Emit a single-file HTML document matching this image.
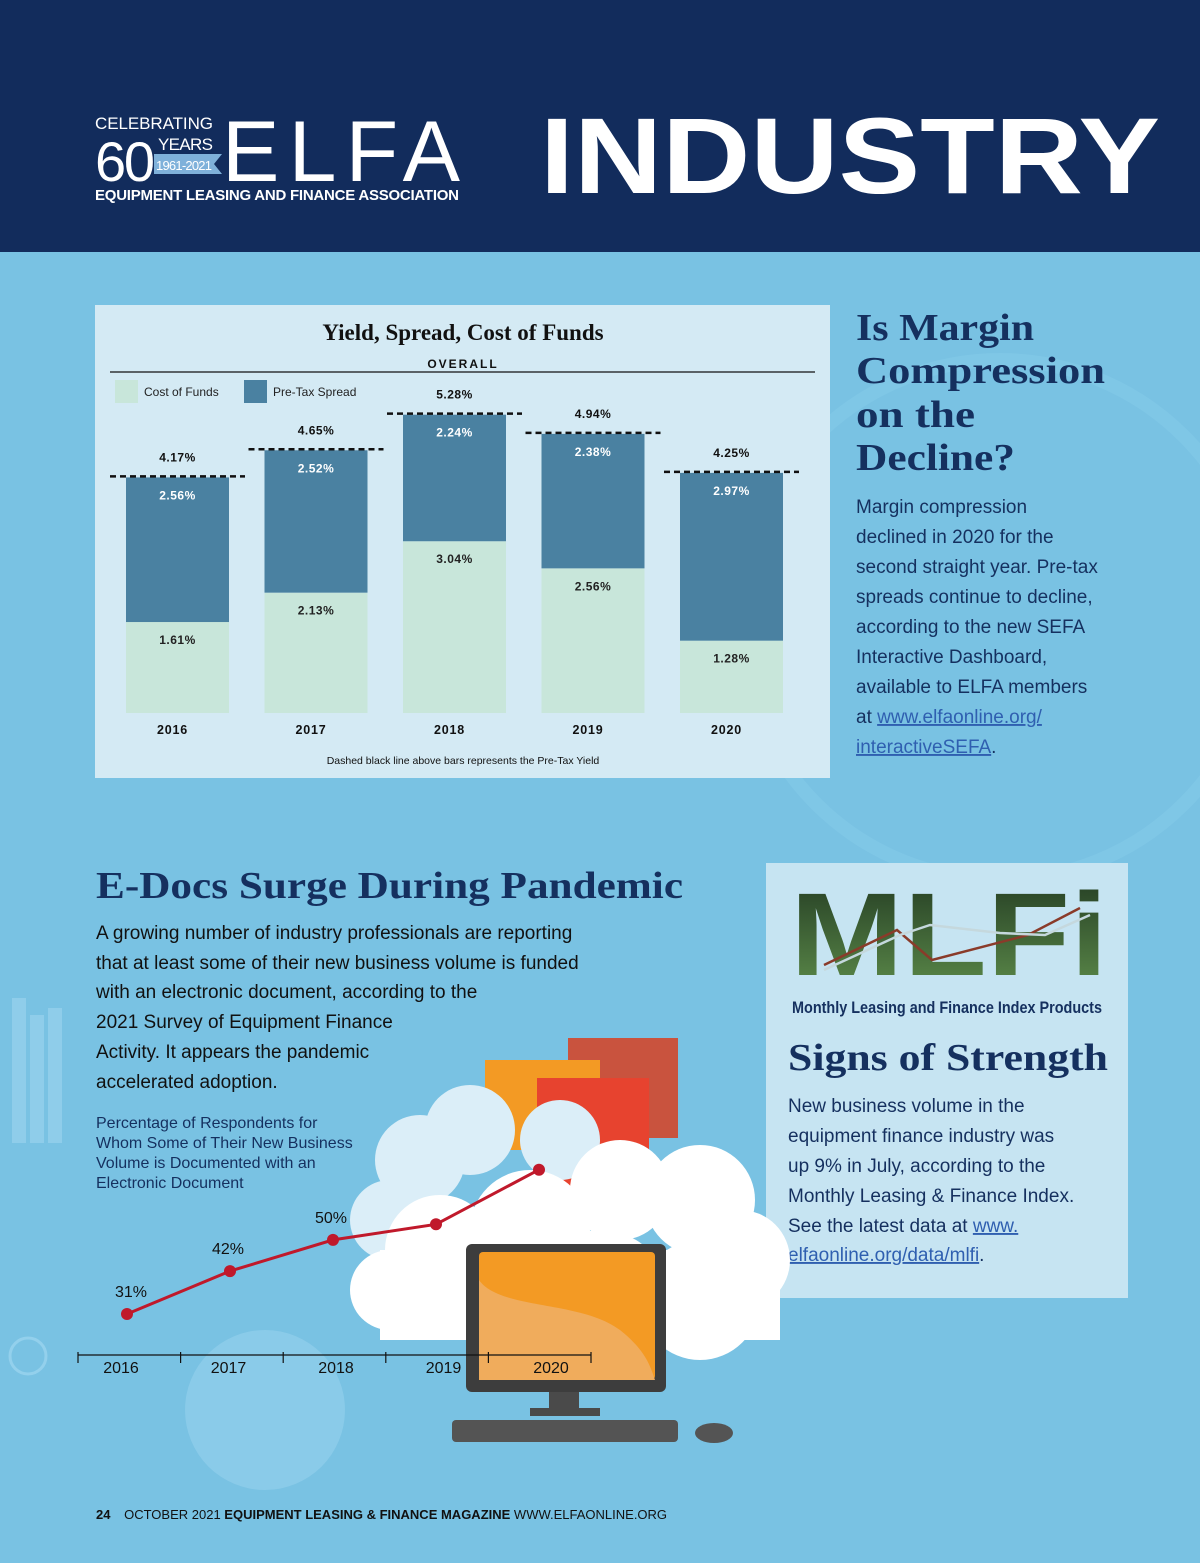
<!DOCTYPE html>
<html><head><meta charset="utf-8"><style>
html,body{margin:0;padding:0}
body{width:1200px;height:1558px;overflow:hidden;background:#79c2e3;font-family:"Liberation Sans",sans-serif}
svg text{font-family:"Liberation Sans",sans-serif}
.serif{font-family:"Liberation Serif",serif}
</style></head><body>
<svg id="page" width="1200" height="1558" viewBox="0 0 1200 1558" xmlns="http://www.w3.org/2000/svg">
<rect width="1200" height="1558" fill="#79c2e3"/>
<circle cx="1000" cy="620" r="260" fill="none" stroke="#84c9e7" stroke-width="14" opacity="0.6"/>
<circle cx="265" cy="1410" r="80" fill="#8fcdea" opacity="0.8"/>
<rect x="12" y="998" width="14" height="145" fill="#8fcdea"/>
<rect x="30" y="1015" width="14" height="128" fill="#8fcdea"/>
<rect x="48" y="1008" width="14" height="135" fill="#8fcdea"/>
<circle cx="28" cy="1356" r="18" fill="none" stroke="#93d0ec" stroke-width="3"/>

<g>
<rect width="1200" height="252" fill="#122c5c"/>
<text x="95" y="129" font-size="17" fill="#fff" textLength="118" lengthAdjust="spacing">CELEBRATING</text>
<text x="95" y="181" font-size="56" fill="#fff" textLength="60">60</text>
<text x="158" y="150" font-size="17" fill="#fff" textLength="55" lengthAdjust="spacing">YEARS</text>
<polygon points="154,154 222,154 214,164 222,174 154,174" fill="#7fb1da"/>
<text x="156" y="170" font-size="13" fill="#fff" textLength="56" lengthAdjust="spacing">1961-2021</text>
<text x="222" y="181" font-size="86" fill="#fff" textLength="238">ELFA</text>
<text x="95" y="200" font-size="15" font-weight="bold" fill="#fff" textLength="364">EQUIPMENT LEASING AND FINANCE ASSOCIATION</text>
<text x="540" y="193" font-size="108" font-weight="bold" fill="#fff" textLength="620" lengthAdjust="spacingAndGlyphs">INDUSTRY</text>
</g>

<g>
<rect x="95" y="305" width="735" height="473" fill="#d4eaf4"/>
<text x="463" y="340" font-size="23" font-weight="bold" text-anchor="middle" fill="#111" class="serif">Yield, Spread, Cost of Funds</text>
<text x="463" y="368" font-size="12" font-weight="bold" text-anchor="middle" letter-spacing="2" fill="#111">OVERALL</text>
<line x1="110" y1="372" x2="815" y2="372" stroke="#111" stroke-width="1.2"/>
<rect x="115" y="380" width="23" height="23" fill="#c8e6da"/>
<text x="144" y="396" font-size="12" fill="#222">Cost of Funds</text>
<rect x="244" y="380" width="23" height="23" fill="#4a81a1"/>
<text x="273" y="396" font-size="12" fill="#222">Pre-Tax Spread</text>
<g id="bars"></g>
<text x="463" y="764" font-size="10.5" text-anchor="middle" fill="#111">Dashed black line above bars represents the Pre-Tax Yield</text>
</g>

<g>
<text font-size="38" font-weight="bold" fill="#15305f" class="serif" lengthAdjust="spacingAndGlyphs">
<tspan x="856" y="340" textLength="178" lengthAdjust="spacingAndGlyphs">Is Margin</tspan><tspan x="856" y="383" textLength="249" lengthAdjust="spacingAndGlyphs">Compression</tspan><tspan x="856" y="427" textLength="119" lengthAdjust="spacingAndGlyphs">on the</tspan><tspan x="856" y="470" textLength="159" lengthAdjust="spacingAndGlyphs">Decline?</tspan></text>
<text font-size="19" fill="#15305f">
<tspan x="856" y="513">Margin compression</tspan><tspan x="856" y="543">declined in 2020 for the</tspan><tspan x="856" y="573">second straight year. Pre-tax</tspan><tspan x="856" y="603">spreads continue to decline,</tspan><tspan x="856" y="633">according to the new SEFA</tspan><tspan x="856" y="663">Interactive Dashboard,</tspan><tspan x="856" y="693">available to ELFA members</tspan><tspan x="856" y="723">at <tspan fill="#2f5fb0" text-decoration="underline">www.elfaonline.org/</tspan></tspan><tspan x="856" y="753"><tspan fill="#2f5fb0" text-decoration="underline">interactiveSEFA</tspan>.</tspan></text>
</g>

<g>
<rect x="766" y="863" width="362" height="435" fill="#c6e4f2"/>
<defs><linearGradient id="gr" x1="0" y1="0" x2="0" y2="1"><stop offset="0" stop-color="#223a22"/><stop offset="1" stop-color="#5f8f4c"/></linearGradient></defs>
<text x="790" y="975" font-size="118" font-weight="bold" fill="url(#gr)" textLength="318" lengthAdjust="spacingAndGlyphs">MLFi</text>
<polyline points="824,965 897,930 932,960 1028,935 1080,908" fill="none" stroke="#8a3b2a" stroke-width="2.5"/>
<polyline points="824,970 900,935 930,925 1000,933 1045,935 1090,915" fill="none" stroke="#c5d8dd" stroke-width="2.5"/>
<text x="792" y="1013" font-size="17" font-weight="bold" fill="#15305f" textLength="310" lengthAdjust="spacingAndGlyphs">Monthly Leasing and Finance Index Products</text>
<text x="788" y="1070" font-size="38" font-weight="bold" fill="#15305f" class="serif" textLength="320" lengthAdjust="spacingAndGlyphs">Signs of Strength</text>
<text font-size="19" fill="#15305f">
<tspan x="788" y="1112">New business volume in the</tspan><tspan x="788" y="1142">equipment finance industry was</tspan><tspan x="788" y="1172">up 9% in July, according to the</tspan><tspan x="788" y="1202">Monthly Leasing &amp; Finance Index.</tspan><tspan x="788" y="1232">See the latest data at <tspan fill="#2f5fb0" text-decoration="underline">www.</tspan></tspan><tspan x="788" y="1261"><tspan fill="#2f5fb0" text-decoration="underline">elfaonline.org/data/mlfi</tspan>.</tspan></text>
</g>

<g>
<rect x="568" y="1038" width="110" height="100" fill="#c9533e"/>
<rect x="485" y="1060" width="115" height="90" fill="#f39a24"/>
<rect x="537" y="1078" width="112" height="110" fill="#e7432f"/>
<g fill="#dbeef8">
<circle cx="420" cy="1160" r="45"/><circle cx="470" cy="1130" r="45"/><circle cx="560" cy="1140" r="40"/><circle cx="390" cy="1220" r="40"/>
</g>
<g fill="#ffffff">
<circle cx="440" cy="1250" r="55"/><circle cx="530" cy="1230" r="60"/><circle cx="620" cy="1190" r="50"/><circle cx="700" cy="1200" r="55"/><circle cx="740" cy="1260" r="50"/>
<circle cx="390" cy="1290" r="40"/><circle cx="600" cy="1300" r="70"/><circle cx="700" cy="1300" r="60"/><rect x="380" y="1250" width="400" height="90"/>
</g>
<rect x="466" y="1244" width="200" height="148" rx="6" fill="#3d3d3d"/>
<rect x="479" y="1252" width="176" height="128" rx="4" fill="#f39a24"/>
<path d="M479,1280 C500,1310 580,1300 620,1330 C645,1350 650,1365 655,1380 L479,1380Z" fill="#f0ac5c"/>
<rect x="549" y="1392" width="30" height="20" fill="#4a4a4a"/>
<rect x="530" y="1408" width="70" height="8" fill="#4a4a4a"/>
<rect x="452" y="1420" width="226" height="22" rx="4" fill="#545454"/>
<ellipse cx="714" cy="1433" rx="19" ry="10" fill="#545454"/>
</g>

<g>
<text x="96" y="898" font-size="38" font-weight="bold" fill="#15305f" class="serif" textLength="587" lengthAdjust="spacingAndGlyphs">E-Docs Surge During Pandemic</text>
<text font-size="19" fill="#111">
<tspan x="96" y="939">A growing number of industry professionals are reporting</tspan><tspan x="96" y="969">that at least some of their new business volume is funded</tspan><tspan x="96" y="998">with an electronic document, according to the</tspan><tspan x="96" y="1028">2021 Survey of Equipment Finance</tspan><tspan x="96" y="1058">Activity. It appears the pandemic</tspan><tspan x="96" y="1088">accelerated adoption.</tspan></text>
<text font-size="16" fill="#15305f">
<tspan x="96" y="1128">Percentage of Respondents for</tspan><tspan x="96" y="1148">Whom Some of Their New Business</tspan><tspan x="96" y="1168">Volume is Documented with an</tspan><tspan x="96" y="1188">Electronic Document</tspan></text>
</g>
<g id="linechart"></g>

<text x="96" y="1519" font-size="13" fill="#111"><tspan font-weight="bold">24</tspan>   <tspan dx="10">OCTOBER 2021 </tspan><tspan font-weight="bold">EQUIPMENT LEASING &amp; FINANCE MAGAZINE</tspan> WWW.ELFAONLINE.ORG</text>
</svg>
<script>
const years = ["2016","2017","2018","2019","2020"];
const costOfFunds = [1.61, 2.13, 3.04, 2.56, 1.28];
const preTaxSpread = [2.56, 2.52, 2.24, 2.38, 2.97];
const pretaxYield = [4.17, 4.65, 5.28, 4.94, 4.25];

const edocYears = ["2016","2017","2018","2019","2020"];
const edocValues = [31, 42, 50, 54, 68];
const edocLabels = ["31%","42%","50%","",""];

const NS = "http://www.w3.org/2000/svg";
function mk(tag, attrs, parent, txt){const e=document.createElementNS(NS,tag);for(const k in attrs)e.setAttribute(k,attrs[k]);if(txt!==undefined)e.textContent=txt;parent.appendChild(e);return e;}

const bars = document.getElementById("bars");
const base = 713, pxPer = 56.5, bw = 103;
function yScale(v){return base - v*pxPer;}
function xBar(i){return 126 + i*138.5;}
years.forEach((yr,i)=>{
  const x = xBar(i), cx = x + bw/2;
  const c = mk("rect",{x:x,y:yScale(costOfFunds[i]),width:bw,height:costOfFunds[i]*pxPer,fill:"#c8e6da"},bars);
  
  
  const s = mk("rect",{x:x,y:yScale(costOfFunds[i]+preTaxSpread[i]),width:bw,height:preTaxSpread[i]*pxPer,fill:"#4a81a1"},bars);
  
  
  const yy = yScale(pretaxYield[i]) - 1;
  const d = mk("line",{x1:x-16,x2:x+bw+16,y1:yy,y2:yy,stroke:"#111","stroke-width":2.5,"stroke-dasharray":"6,4"},bars);
  
  
  const t1 = mk("text",{x:cx,y:yy-15,"font-size":12,"text-anchor":"middle",fill:"#111","font-weight":"bold","letter-spacing":"0.5"},bars,pretaxYield[i].toFixed(2)+"%");
  
  
  const t2 = mk("text",{x:cx,y:yScale(costOfFunds[i]+preTaxSpread[i])+22,"font-size":12,"text-anchor":"middle",fill:"#fff","font-weight":"bold","letter-spacing":"0.5"},bars,preTaxSpread[i].toFixed(2)+"%");
  
  
  const t3 = mk("text",{x:cx,y:yScale(costOfFunds[i])+22,"font-size":12,"text-anchor":"middle",fill:"#222","font-weight":"bold","letter-spacing":"0.5"},bars,costOfFunds[i].toFixed(2)+"%");
  
  
  const t4 = mk("text",{x:cx-5,y:734,"font-size":12.5,"text-anchor":"middle",fill:"#111","font-weight":"bold","letter-spacing":"0.8"},bars,yr);
  
  
});

const lc = document.getElementById("linechart");
function lx(i){return 127 + i*103;}
function ly(v){return 1314 - (v-31)*3.9;}
const ax = mk("line",{x1:78,x2:591,y1:1355,y2:1355,stroke:"#111","stroke-width":1.2},lc);


for(let k=0;k<=edocYears.length;k++){
  const tk = mk("line",{x1:78+k*102.6,x2:78+k*102.6,y1:1352,y2:1363,stroke:"#111","stroke-width":1.2},lc);
  
  
}
edocYears.forEach((yr,i)=>{
  const t = mk("text",{x:121+i*107.5,y:1373,"font-size":16,"text-anchor":"middle",fill:"#111"},lc,yr);
  
  
});
const pts = edocValues.map((v,i)=>lx(i)+","+ly(v)).join(" ");
const pl = mk("polyline",{points:pts,fill:"none",stroke:"#c0192b","stroke-width":3},lc);


edocValues.forEach((v,i)=>{
  const c = mk("circle",{cx:lx(i),cy:ly(v),r:6,fill:"#c0192b"},lc);
  
  
  if(edocLabels[i]){
    const t = mk("text",{x:lx(i)+(i===0?4:-2),y:ly(v)-17,"font-size":16,"text-anchor":"middle",fill:"#111"},lc,edocLabels[i]);
    
    
  }
});
</script>
</body></html>
